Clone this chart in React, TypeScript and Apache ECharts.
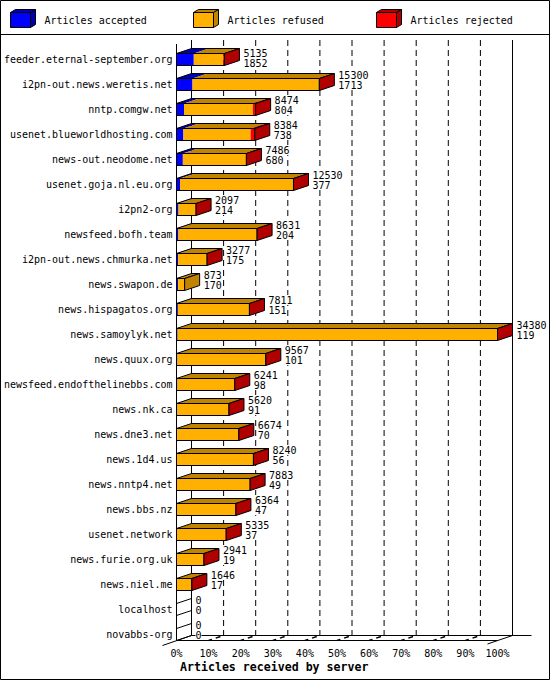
import React, { useEffect, useRef } from "react";
import * as echarts from "echarts";

// one row per feeding server, top to bottom
const servers = [
  "feeder.eternal-september.org",
  "i2pn-out.news.weretis.net",
  "nntp.comgw.net",
  "usenet.blueworldhosting.com",
  "news-out.neodome.net",
  "usenet.goja.nl.eu.org",
  "i2pn2-org",
  "newsfeed.bofh.team",
  "i2pn-out.news.chmurka.net",
  "news.swapon.de",
  "news.hispagatos.org",
  "news.samoylyk.net",
  "news.quux.org",
  "newsfeed.endofthelinebbs.com",
  "news.nk.ca",
  "news.dne3.net",
  "news.1d4.us",
  "news.nntp4.net",
  "news.bbs.nz",
  "usenet.network",
  "news.furie.org.uk",
  "news.niel.me",
  "localhost",
  "novabbs-org",
];

const offered = [
  5135, 15300, 8474, 8384, 7486, 12530, 2097, 8631, 3277, 873, 7811, 34380,
  9567, 6241, 5620, 6674, 8240, 7883, 6364, 5335, 2941, 1646, 0, 0,
];
const accepted = [
  1852, 1713, 804, 738, 680, 377, 214, 204, 175, 170, 151, 119, 101, 98, 91,
  70, 56, 49, 47, 37, 19, 17, 0, 0,
];
const refused = [
  3163, 13567, 7370, 7196, 6776, 12133, 1873, 8412, 3092, 703, 7650, 34241,
  9456, 6133, 5519, 6594, 8174, 7824, 6307, 5198, 2912, 1619, 0, 0,
];
const rejected = [
  120, 20, 300, 450, 30, 20, 10, 15, 10, 0, 10, 20, 10, 10, 10, 10, 10, 10, 10,
  100, 10, 10, 0, 0,
];

const tickPercents = [0, 10, 20, 30, 40, 50, 60, 70, 80, 90, 100];

const legendNames = ["Articles accepted", "Articles refused", "Articles rejected"];
const faceColors = ["#0000ff", "#ffb000", "#ff0000"];
const shadeColors = ["#0000b0", "#c08400", "#b00000"];

const MONO = '"DejaVu Sans Mono", "Liberation Mono", monospace';
const FONT = `10px ${MONO}`;
const DX = 15;
const DY = -5;
const HALF = 6;

const maxOffered = Math.max(...offered);

const line = (x1: number, y1: number, x2: number, y2: number, extra: any = {}) => ({
  type: "line",
  shape: { x1, y1, x2, y2 },
  style: { stroke: "#000", lineWidth: 1, ...extra },
});

const valueText = (text: string, x: number, y: number) => ({
  type: "text",
  z2: 10,
  style: {
    text,
    x,
    y,
    font: FONT,
    fill: "#000",
    align: "left",
    verticalAlign: "middle",
    backgroundColor: "#fff",
  },
});

const renderBar = (params: any, api: any) => {
  const idx = api.value(1);
  const parts = [api.value(2), api.value(3), api.value(4)];
  const [x0, yc] = api.coord([0, idx]);
  const top = yc - HALF;
  const bot = yc + HALF;
  const edges = [x0];
  let sum = 0;
  parts.forEach((p: number) => {
    sum += p;
    edges.push(api.coord([sum, idx])[0]);
  });
  const xe = edges[3];
  const children: any[] = [];
  let last = -1;
  parts.forEach((p: number, i: number) => {
    if (p <= 0) return;
    last = i;
    const a = edges[i];
    const b = edges[i + 1];
    children.push({
      type: "polygon",
      shape: { points: [[a, top], [b, top], [b + DX, top + DY], [a + DX, top + DY]] },
      style: { fill: shadeColors[i] },
    });
    children.push({
      type: "rect",
      shape: { x: a, y: top, width: b - a, height: bot - top },
      style: { fill: faceColors[i] },
    });
  });
  if (last >= 0) {
    children.push({
      type: "polygon",
      shape: { points: [[x0, top], [xe, top], [xe + DX, top + DY], [x0 + DX, top + DY]] },
      style: { fill: "none", stroke: "#000", lineWidth: 1 },
    });
    children.push({
      type: "rect",
      shape: { x: x0, y: top, width: xe - x0, height: bot - top },
      style: { fill: "none", stroke: "#000", lineWidth: 1 },
    });
    children.push({
      type: "polygon",
      shape: { points: [[xe, top], [xe + DX, top + DY], [xe + DX, bot + DY], [xe, bot]] },
      style: { fill: shadeColors[last], stroke: "#000", lineWidth: 1 },
    });
  } else {
    children.push(line(x0, top, x0 + DX, top + DY));
    children.push(line(x0, bot, x0 + DX, bot + DY));
  }
  const firstY = api.coord([0, 0])[1];
  const ty = Math.max(yc - 9.5, firstY - 6.5);
  const lx = xe + DX + 4;
  children.push(valueText(String(api.value(0)), lx, ty));
  children.push(valueText(String(api.value(2)), lx, ty + 10));
  return { type: "group", children };
};

const renderFrame = (params: any, api: any) => {
  const k = params.dataIndex;
  const v = api.value(0);
  const [x, yFirst] = api.coord([v, 0]);
  const yLast = api.coord([v, servers.length - 1])[1];
  const floorY = yLast + HALF;
  const topY = yFirst - 15.5;
  const backX = x + DX;
  const isEdge = k === 0 || k === tickPercents.length - 1;
  const children: any[] = [];
  children.push(line(backX, topY - 4, backX, floorY + DY, isEdge ? {} : { lineDash: [6, 4] }));
  if (!isEdge) {
    children.push(line(x, floorY, backX, floorY + DY, { lineDash: [3.5, 4, 5, 10], lineWidth: 1.5 }));
  }
  if (k === 0) {
    const xEnd = api.coord([maxOffered, 0])[0];
    children.push(line(x, topY, x, floorY));
    children.push(line(x, floorY, xEnd, floorY));
    children.push(line(backX, floorY + DY, xEnd + DX + 19, floorY + DY));
    children.push(line(x - 14, floorY + 5, backX, floorY + DY));
  }
  if (k === tickPercents.length - 1) {
    children.push(line(x - 10, floorY + 3.5, backX, floorY + DY));
  }
  return { type: "group", children };
};

const App: React.FC = () => {
  const chartRef = useRef<HTMLDivElement>(null);

  useEffect(() => {
    if (!chartRef.current) return;
    document.body.style.margin = "0";
    const chart = echarts.init(chartRef.current, undefined, { renderer: "svg" });

    const barData = servers.map((_, i) => [offered[i], i, accepted[i], refused[i], rejected[i]]);
    const frameData = tickPercents.map((p) => [(maxOffered * p) / 100, 0]);

    const legendGraphics = legendNames.flatMap((name, i) => {
      const x = 10.5 + i * 183;
      return [
        {
          type: "polygon",
          shape: { points: [[x, 12.5], [x + 20, 12.5], [x + 25, 9.5], [x + 5, 9.5]] },
          style: { fill: shadeColors[i], stroke: "#000", lineWidth: 1 },
        },
        {
          type: "polygon",
          shape: { points: [[x + 20, 12.5], [x + 25, 9.5], [x + 25, 24.5], [x + 20, 27.5]] },
          style: { fill: shadeColors[i], stroke: "#000", lineWidth: 1 },
        },
        {
          type: "rect",
          shape: { x, y: 12.5, width: 20, height: 15 },
          style: { fill: faceColors[i], stroke: "#000", lineWidth: 1 },
        },
        {
          type: "text",
          x: x + 34,
          y: 20,
          style: { text: name, font: FONT, fill: "#000", verticalAlign: "middle" },
        },
      ];
    });

    chart.setOption({
      animation: false,
      backgroundColor: "#fff",
      grid: { left: 176.5, right: 52.5, top: 47, bottom: 33 },
      xAxis: {
        type: "value",
        min: 0,
        max: maxOffered,
        interval: maxOffered / 10,
        axisLine: { show: false },
        axisTick: { show: false },
        splitLine: { show: false },
        axisLabel: {
          margin: 1,
          color: "#000",
          fontFamily: MONO,
          fontSize: 10,
          formatter: (val: number) => `${Math.round((val / maxOffered) * 100)}%`,
        },
      },
      yAxis: {
        type: "category",
        data: servers,
        inverse: true,
        axisLine: { show: false },
        axisTick: { show: false },
        axisLabel: { margin: 4, color: "#000", fontFamily: MONO, fontSize: 10, interval: 0 },
      },
      graphic: [
        {
          type: "rect",
          shape: { x: 0.5, y: 0.5, width: 549, height: 679 },
          style: { fill: "none", stroke: "#000", lineWidth: 1 },
        },
        {
          type: "line",
          shape: { x1: 0, y1: 34.5, x2: 550, y2: 34.5 },
          style: { stroke: "#000", lineWidth: 1 },
        },
        ...legendGraphics,
        {
          type: "text",
          x: 180,
          y: 667,
          style: {
            text: "Articles received by server",
            font: `bold 11.6px ${MONO}`,
            fill: "#000",
            verticalAlign: "middle",
          },
        },
      ],
      series: [
        {
          type: "custom",
          name: "frame",
          z: 1,
          renderItem: renderFrame,
          data: frameData,
          encode: { x: 0, y: 1 },
          silent: true,
        },
        {
          type: "custom",
          name: "articles",
          z: 2,
          renderItem: renderBar,
          data: barData,
          encode: { x: 0, y: 1 },
        },
      ],
    });

    return () => chart.dispose();
  }, []);

  return <div ref={chartRef} style={{ width: 550, height: 680 }} />;
};

export default App;
